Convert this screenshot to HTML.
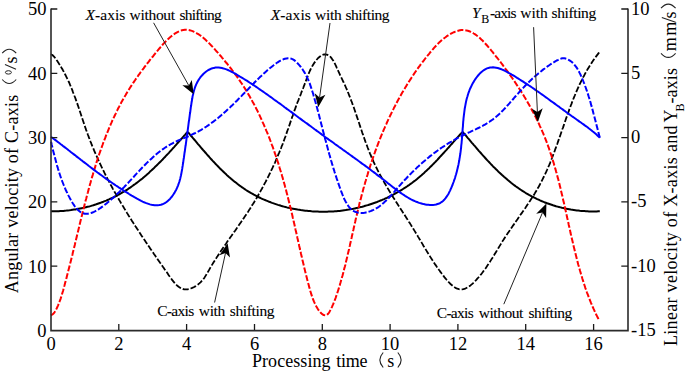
<!DOCTYPE html>
<html><head><meta charset="utf-8"><style>html,body{margin:0;padding:0;background:#fff}svg{display:block}</style></head>
<body><svg xmlns="http://www.w3.org/2000/svg" width="685" height="374" viewBox="0 0 685 374">
<rect width="685" height="374" fill="#fff"/>
<g fill="none" stroke-linejoin="round">
<path d="M51.0,211.3 52.5,211.3 54.1,211.3 55.6,211.3 57.2,211.2 58.7,211.2 60.3,211.1 61.8,211.0 63.3,210.9 64.9,210.7 66.4,210.6 67.9,210.4 69.5,210.3 71.0,210.1 72.5,209.8 74.0,209.6 75.5,209.4 77.1,209.1 78.6,208.8 80.1,208.5 81.6,208.2 83.1,207.9 84.5,207.6 86.0,207.2 87.5,206.8 89.0,206.5 90.5,206.1 91.9,205.6 93.4,205.2 94.8,204.7 96.3,204.3 97.7,203.8 99.2,203.3 100.6,202.8 102.0,202.2 103.4,201.7 104.8,201.1 106.2,200.6 107.6,200.0 109.0,199.4 110.4,198.7 111.8,198.1 113.2,197.5 114.5,196.8 115.9,196.1 117.2,195.4 118.6,194.7 119.9,194.0 121.2,193.2 122.5,192.4 123.8,191.7 125.1,190.9 126.4,190.1 127.7,189.3 128.9,188.4 130.2,187.6 131.4,186.7 132.7,185.8 133.9,184.9 135.2,184.0 136.4,183.1 137.6,182.2 138.8,181.3 140.0,180.3 141.2,179.4 142.4,178.4 143.5,177.4 144.7,176.4 145.9,175.4 147.0,174.4 148.2,173.4 149.3,172.4 150.4,171.3 151.6,170.3 152.7,169.2 153.8,168.2 154.9,167.1 156.0,166.1 157.1,165.0 158.2,163.9 159.3,162.8 160.4,161.7 161.5,160.6 162.6,159.5 163.6,158.4 164.7,157.3 165.7,156.1 166.8,155.0 167.9,153.9 168.9,152.8 169.9,151.6 171.0,150.5 172.0,149.4 173.0,148.2 174.1,147.1 175.1,145.9 176.1,144.8 177.1,143.7 178.1,142.5 179.2,141.4 180.2,140.2 181.2,139.1 182.2,138.0 183.2,136.8 184.2,135.7 185.2,134.6 186.2,133.4 187.1,132.3 188.2,132.5 189.2,133.7 190.2,134.9 191.2,136.0 192.2,137.2 193.2,138.4 194.2,139.5 195.2,140.7 196.2,141.9 197.2,143.1 198.2,144.3 199.2,145.4 200.2,146.6 201.2,147.8 202.2,149.0 203.2,150.2 204.3,151.3 205.3,152.5 206.3,153.7 207.3,154.8 208.4,156.0 209.4,157.2 210.4,158.3 211.5,159.5 212.5,160.6 213.6,161.7 214.7,162.9 215.7,164.0 216.8,165.1 217.9,166.2 219.0,167.4 220.0,168.5 221.1,169.5 222.2,170.6 223.4,171.7 224.5,172.8 225.6,173.8 226.7,174.9 227.9,175.9 229.0,176.9 230.2,177.9 231.3,179.0 232.5,179.9 233.7,180.9 234.9,181.9 236.1,182.8 237.3,183.8 238.5,184.7 239.7,185.6 241.0,186.5 242.2,187.4 243.5,188.3 244.7,189.1 246.0,190.0 247.3,190.8 248.6,191.6 249.9,192.4 251.2,193.2 252.6,193.9 253.9,194.7 255.3,195.4 256.6,196.1 258.0,196.8 259.4,197.5 260.7,198.2 262.1,198.8 263.5,199.4 265.0,200.0 266.4,200.6 267.8,201.2 269.2,201.8 270.7,202.3 272.1,202.9 273.6,203.4 275.0,203.9 276.5,204.4 278.0,204.9 279.5,205.3 281.0,205.8 282.4,206.2 283.9,206.6 285.4,207.0 287.0,207.4 288.5,207.7 290.0,208.1 291.5,208.4 293.0,208.7 294.6,209.0 296.1,209.3 297.6,209.6 299.2,209.8 300.7,210.1 302.2,210.3 303.8,210.5 305.3,210.7 306.9,210.8 308.4,211.0 310.0,211.1 311.6,211.3 313.1,211.4 314.7,211.5 316.2,211.6 317.8,211.6 319.3,211.7 320.9,211.7 322.5,211.7 324.0,211.7 325.6,211.7 327.1,211.7 328.7,211.6 330.3,211.6 331.8,211.5 333.4,211.4 334.9,211.3 336.5,211.2 338.0,211.0 339.6,210.9 341.1,210.7 342.7,210.5 344.2,210.3 345.7,210.1 347.3,209.8 348.8,209.6 350.3,209.3 351.8,209.0 353.4,208.8 354.9,208.4 356.4,208.1 357.9,207.8 359.4,207.4 360.9,207.0 362.4,206.7 363.9,206.3 365.3,205.8 366.8,205.4 368.3,205.0 369.7,204.5 371.2,204.0 372.7,203.5 374.1,203.0 375.6,202.5 377.0,202.0 378.4,201.4 379.8,200.8 381.3,200.3 382.7,199.7 384.1,199.1 385.5,198.4 386.9,197.8 388.3,197.1 389.6,196.5 391.0,195.8 392.4,195.1 393.7,194.4 395.1,193.7 396.4,192.9 397.8,192.2 399.1,191.4 400.4,190.6 401.7,189.8 403.0,189.0 404.3,188.2 405.6,187.4 406.9,186.5 408.1,185.6 409.4,184.8 410.6,183.9 411.9,183.0 413.1,182.0 414.3,181.1 415.6,180.2 416.8,179.2 417.9,178.2 419.1,177.2 420.3,176.2 421.5,175.2 422.6,174.2 423.8,173.2 424.9,172.1 426.1,171.1 427.2,170.0 428.3,168.9 429.4,167.9 430.5,166.8 431.6,165.7 432.7,164.6 433.8,163.5 434.9,162.4 436.0,161.2 437.1,160.1 438.1,159.0 439.2,157.8 440.2,156.7 441.3,155.5 442.3,154.4 443.4,153.2 444.4,152.1 445.5,150.9 446.5,149.8 447.5,148.6 448.6,147.5 449.6,146.3 450.6,145.1 451.7,144.0 452.7,142.8 453.7,141.7 454.7,140.5 455.8,139.4 456.8,138.2 457.8,137.1 458.8,136.0 459.8,134.8 460.9,133.7 461.9,132.6 462.9,132.2 463.9,133.4 464.9,134.5 465.9,135.7 466.9,136.9 467.9,138.1 468.9,139.2 469.9,140.4 470.9,141.6 471.9,142.8 472.9,143.9 473.9,145.1 474.9,146.2 475.9,147.3 476.8,148.5 477.8,149.6 478.8,150.8 479.8,151.9 480.8,153.0 481.8,154.2 482.8,155.3 483.8,156.4 484.8,157.5 485.9,158.7 486.9,159.8 487.9,160.9 489.0,162.0 490.0,163.1 491.0,164.2 492.1,165.3 493.1,166.4 494.2,167.4 495.3,168.5 496.3,169.6 497.4,170.6 498.5,171.7 499.6,172.7 500.7,173.7 501.8,174.8 502.9,175.8 504.0,176.8 505.2,177.8 506.4,178.8 507.5,179.8 508.7,180.8 509.9,181.8 511.1,182.8 512.3,183.7 513.6,184.7 514.8,185.6 516.0,186.5 517.3,187.4 518.6,188.3 519.8,189.2 521.1,190.0 522.4,190.9 523.7,191.7 525.0,192.5 526.3,193.3 527.7,194.1 529.0,194.9 530.4,195.6 531.7,196.3 533.1,197.0 534.4,197.7 535.8,198.4 537.2,199.1 538.6,199.7 540.0,200.4 541.4,201.0 542.9,201.6 544.3,202.2 545.7,202.7 547.2,203.3 548.6,203.8 550.1,204.3 551.6,204.8 553.0,205.3 554.5,205.7 556.0,206.2 557.5,206.6 559.0,207.0 560.5,207.4 561.9,207.8 563.4,208.1 564.8,208.4 566.3,208.7 567.8,209.0 569.3,209.3 570.8,209.6 572.3,209.8 573.8,210.0 575.3,210.2 576.8,210.4 578.3,210.6 579.8,210.8 581.3,210.9 582.9,211.0 584.4,211.1 585.9,211.2 587.5,211.3 589.0,211.4 590.5,211.4 592.1,211.4 593.6,211.4 595.2,211.4 596.7,211.4 598.2,211.3 599.7,211.2 599.8,211.2" stroke="#000" stroke-width="2"/>
<path d="M51.0,54.3 52.4,55.0 53.5,56.1 54.5,57.2 55.5,58.5 56.4,59.8 57.3,61.1 58.2,62.4 59.0,63.7 59.9,65.0 60.7,66.3 61.5,67.7 62.3,69.0 63.0,70.4 63.8,71.7 64.5,73.1 65.2,74.5 65.9,75.9 66.6,77.3 67.3,78.7 68.0,80.1 68.6,81.5 69.3,82.9 69.9,84.4 70.5,85.8 71.1,87.2 71.7,88.7 72.3,90.1 72.8,91.6 73.4,93.1 74.0,94.5 74.5,96.0 75.1,97.5 75.6,98.9 76.1,100.4 76.6,101.9 77.2,103.4 77.7,104.9 78.2,106.3 78.7,107.8 79.2,109.3 79.7,110.8 80.2,112.3 80.7,113.8 81.2,115.3 81.7,116.8 82.2,118.3 82.7,119.7 83.2,121.2 83.7,122.7 84.2,124.2 84.7,125.7 85.2,127.2 85.7,128.6 86.2,130.1 86.8,131.6 87.3,133.1 87.8,134.5 88.4,136.0 88.9,137.4 89.5,138.9 90.0,140.3 90.6,141.8 91.2,143.2 91.7,144.7 92.3,146.1 92.9,147.5 93.5,148.9 94.1,150.4 94.7,151.8 95.3,153.2 95.9,154.6 96.6,156.0 97.2,157.4 97.8,158.8 98.5,160.3 99.1,161.6 99.7,163.0 100.4,164.4 101.1,165.8 101.7,167.2 102.4,168.6 103.1,170.0 103.8,171.4 104.4,172.7 105.1,174.1 105.8,175.5 106.5,176.9 107.2,178.2 107.9,179.6 108.7,180.9 109.4,182.3 110.1,183.7 110.8,185.0 111.6,186.4 112.3,187.7 113.0,189.1 113.8,190.4 114.5,191.8 115.3,193.1 116.1,194.4 116.8,195.8 117.6,197.1 118.4,198.5 119.1,199.8 119.9,201.1 120.7,202.5 121.5,203.8 122.3,205.1 123.1,206.4 123.9,207.8 124.7,209.1 125.5,210.4 126.3,211.7 127.1,213.1 127.9,214.4 128.7,215.7 129.6,217.0 130.4,218.3 131.2,219.6 132.0,221.0 132.9,222.3 133.7,223.6 134.6,224.9 135.4,226.2 136.3,227.5 137.1,228.8 138.0,230.1 138.8,231.4 139.7,232.7 140.5,234.1 141.4,235.4 142.3,236.7 143.1,238.0 144.0,239.3 144.9,240.6 145.8,241.9 146.7,243.2 147.5,244.5 148.4,245.8 149.3,247.1 150.2,248.4 151.1,249.7 152.0,251.0 152.9,252.3 153.8,253.7 154.7,255.0 155.6,256.3 156.5,257.6 157.4,258.9 158.3,260.2 159.2,261.5 160.1,262.8 161.1,264.1 162.0,265.4 162.9,266.8 163.8,268.1 164.7,269.4 165.6,270.7 166.6,272.0 167.5,273.3 168.4,274.7 169.3,276.0 170.3,277.3 171.2,278.6 172.1,279.9 173.1,281.1 174.1,282.3 175.1,283.5 176.2,284.7 177.4,285.8 178.6,286.7 179.9,287.6 181.3,288.4 182.8,289.0 184.4,289.3 186.1,289.4 187.6,289.3 189.3,289.0 190.7,288.5 192.2,287.9 193.7,287.2 195.2,286.4 196.6,285.5 198.0,284.5 199.3,283.4 200.5,282.3 201.6,281.1 202.7,279.9 203.7,278.7 204.6,277.4 205.4,276.1 206.2,274.8 207.0,273.4 207.8,272.1 208.6,270.8 209.4,269.4 210.1,268.1 210.9,266.8 211.7,265.4 212.5,264.1 213.3,262.8 214.1,261.5 215.0,260.2 215.8,258.9 216.6,257.6 217.5,256.3 218.3,255.0 219.2,253.7 220.0,252.4 220.9,251.1 221.8,249.8 222.6,248.5 223.5,247.2 224.4,246.0 225.3,244.7 226.2,243.4 227.0,242.1 227.9,240.8 228.8,239.6 229.7,238.3 230.6,237.0 231.5,235.8 232.4,234.5 233.3,233.2 234.2,231.9 235.1,230.7 236.0,229.4 236.9,228.1 237.8,226.8 238.6,225.6 239.5,224.3 240.4,223.0 241.3,221.7 242.2,220.4 243.1,219.1 243.9,217.9 244.8,216.6 245.7,215.3 246.5,214.0 247.4,212.7 248.3,211.4 249.1,210.1 250.0,208.8 250.8,207.5 251.6,206.1 252.4,204.8 253.3,203.5 254.1,202.2 254.9,200.8 255.7,199.5 256.5,198.2 257.3,196.8 258.1,195.5 258.8,194.1 259.6,192.8 260.4,191.4 261.1,190.1 261.9,188.7 262.6,187.4 263.4,186.0 264.1,184.6 264.8,183.2 265.6,181.9 266.3,180.5 267.0,179.1 267.7,177.7 268.4,176.3 269.1,174.9 269.8,173.5 270.5,172.1 271.1,170.7 271.8,169.3 272.5,167.9 273.1,166.5 273.8,165.1 274.4,163.7 275.1,162.3 275.7,160.9 276.3,159.4 276.9,158.0 277.5,156.6 278.1,155.1 278.7,153.7 279.3,152.3 279.9,150.8 280.5,149.4 281.1,148.0 281.6,146.5 282.2,145.1 282.8,143.6 283.3,142.2 283.9,140.7 284.4,139.2 284.9,137.8 285.5,136.3 286.0,134.9 286.5,133.4 287.0,131.9 287.5,130.5 288.1,129.0 288.6,127.5 289.1,126.1 289.6,124.6 290.1,123.1 290.6,121.6 291.1,120.2 291.6,118.7 292.1,117.2 292.7,115.8 293.2,114.3 293.7,112.8 294.2,111.3 294.7,109.9 295.3,108.4 295.8,106.9 296.3,105.5 296.9,104.0 297.4,102.5 298.0,101.1 298.6,99.6 299.1,98.2 299.7,96.7 300.3,95.3 300.9,93.8 301.4,92.4 302.0,90.9 302.6,89.5 303.2,88.0 303.7,86.6 304.3,85.2 304.8,83.7 305.4,82.3 305.9,80.9 306.4,79.5 306.9,78.1 307.5,76.7 308.0,75.3 308.6,73.8 309.2,72.4 309.8,71.0 310.5,69.5 311.2,68.1 312.0,66.6 312.8,65.3 313.6,64.0 314.5,62.6 315.4,61.4 316.3,60.1 317.3,59.0 318.5,57.7 319.7,56.7 320.9,55.7 322.3,55.0 323.7,54.5 325.3,54.3 326.8,54.6 328.3,55.2 329.6,56.1 330.8,57.2 331.7,58.4 332.6,59.7 333.5,61.1 334.3,62.5 335.0,63.9 335.7,65.3 336.3,66.7 336.9,68.1 337.6,69.5 338.2,70.9 338.9,72.4 339.6,73.9 340.2,75.3 340.9,76.8 341.6,78.2 342.3,79.6 342.9,81.0 343.6,82.3 344.2,83.7 344.9,85.1 345.5,86.5 346.1,87.9 346.7,89.2 347.3,90.6 347.9,92.1 348.5,93.5 349.0,94.9 349.6,96.3 350.2,97.7 350.7,99.2 351.2,100.6 351.8,102.0 352.3,103.5 352.8,104.9 353.4,106.4 353.9,107.8 354.4,109.3 354.9,110.7 355.4,112.2 355.9,113.7 356.4,115.1 356.9,116.6 357.4,118.1 357.9,119.5 358.4,121.0 358.9,122.5 359.4,124.0 359.8,125.4 360.3,126.9 360.8,128.4 361.3,129.8 361.8,131.3 362.3,132.8 362.9,134.3 363.4,135.7 363.9,137.2 364.4,138.7 364.9,140.1 365.4,141.6 366.0,143.1 366.5,144.5 367.1,146.0 367.6,147.5 368.2,148.9 368.7,150.4 369.3,151.8 369.9,153.3 370.5,154.7 371.1,156.1 371.7,157.6 372.3,159.0 373.0,160.4 373.6,161.9 374.3,163.3 374.9,164.7 375.6,166.1 376.3,167.5 377.0,168.9 377.7,170.3 378.4,171.7 379.2,173.1 379.9,174.5 380.6,175.8 381.4,177.2 382.1,178.6 382.9,180.0 383.7,181.3 384.4,182.7 385.2,184.0 386.0,185.4 386.8,186.7 387.6,188.1 388.4,189.4 389.2,190.8 390.0,192.1 390.9,193.5 391.7,194.8 392.5,196.1 393.3,197.5 394.2,198.8 395.0,200.1 395.8,201.4 396.7,202.7 397.5,204.1 398.4,205.4 399.2,206.7 400.0,208.0 400.9,209.3 401.7,210.6 402.6,211.9 403.4,213.2 404.3,214.5 405.1,215.8 405.9,217.1 406.8,218.4 407.6,219.7 408.4,221.0 409.2,222.3 410.1,223.6 410.9,224.9 411.7,226.2 412.5,227.5 413.3,228.8 414.1,230.1 414.9,231.4 415.7,232.7 416.5,234.0 417.3,235.3 418.0,236.6 418.8,237.9 419.6,239.2 420.4,240.5 421.1,241.8 421.9,243.1 422.7,244.4 423.4,245.7 424.2,247.0 425.0,248.3 425.8,249.6 426.6,250.9 427.4,252.2 428.2,253.5 429.0,254.8 429.8,256.1 430.6,257.4 431.5,258.8 432.3,260.1 433.2,261.4 434.0,262.7 434.9,264.1 435.9,265.4 436.8,266.8 437.7,268.1 438.7,269.5 439.7,270.8 440.6,272.2 441.7,273.5 442.6,274.7 443.5,275.9 444.4,277.1 445.4,278.3 446.4,279.5 447.4,280.6 448.5,281.9 449.7,283.1 450.8,284.3 452.0,285.3 453.2,286.3 454.6,287.3 456.0,288.1 457.3,288.7 458.9,289.2 460.4,289.4 462.0,289.4 463.5,289.1 465.1,288.6 466.4,288.0 467.8,287.2 469.2,286.3 470.5,285.4 471.7,284.4 472.9,283.3 474.0,282.2 475.1,281.1 476.3,279.9 477.3,278.7 478.4,277.5 479.5,276.3 480.5,275.0 481.5,273.8 482.5,272.5 483.4,271.2 484.4,270.0 485.3,268.7 486.2,267.4 487.1,266.1 487.9,264.8 488.8,263.5 489.7,262.2 490.5,260.9 491.3,259.6 492.2,258.3 493.0,257.0 493.8,255.6 494.6,254.3 495.4,253.0 496.2,251.7 497.0,250.4 497.8,249.0 498.6,247.7 499.4,246.4 500.2,245.1 501.0,243.8 501.8,242.4 502.6,241.1 503.5,239.8 504.3,238.5 505.1,237.2 506.0,235.9 506.9,234.6 507.7,233.3 508.6,232.1 509.5,230.8 510.3,229.5 511.2,228.2 512.1,226.9 513.0,225.6 513.9,224.4 514.8,223.1 515.7,221.8 516.6,220.5 517.5,219.3 518.3,218.0 519.2,216.7 520.1,215.4 521.0,214.1 521.9,212.9 522.8,211.6 523.7,210.3 524.6,209.0 525.5,207.7 526.3,206.4 527.2,205.1 528.1,203.8 528.9,202.5 529.8,201.2 530.6,199.9 531.5,198.6 532.3,197.3 533.2,196.0 534.0,194.7 534.8,193.4 535.6,192.0 536.4,190.7 537.2,189.4 537.9,188.0 538.7,186.7 539.5,185.3 540.2,183.9 540.9,182.6 541.6,181.2 542.3,179.8 543.0,178.4 543.7,177.0 544.4,175.6 545.1,174.2 545.7,172.8 546.4,171.4 547.0,170.0 547.6,168.5 548.2,167.1 548.9,165.7 549.5,164.3 550.1,162.8 550.6,161.4 551.2,159.9 551.8,158.5 552.4,157.0 552.9,155.6 553.5,154.1 554.1,152.6 554.6,151.2 555.1,149.7 555.7,148.2 556.2,146.8 556.7,145.3 557.3,143.8 557.8,142.4 558.3,140.9 558.8,139.4 559.4,137.9 559.9,136.4 560.4,135.0 560.9,133.5 561.4,132.0 561.9,130.5 562.4,129.0 563.0,127.6 563.5,126.1 564.0,124.6 564.5,123.1 565.0,121.7 565.5,120.2 566.0,118.7 566.6,117.2 567.1,115.8 567.6,114.3 568.1,112.8 568.7,111.4 569.2,109.9 569.7,108.4 570.3,107.0 570.8,105.5 571.4,104.1 571.9,102.6 572.5,101.2 573.0,99.8 573.6,98.3 574.2,96.9 574.8,95.5 575.4,94.0 576.0,92.6 576.6,91.2 577.2,89.8 577.8,88.4 578.5,87.0 579.1,85.6 579.7,84.2 580.4,82.8 581.1,81.4 581.8,80.1 582.4,78.7 583.1,77.3 583.9,76.0 584.6,74.6 585.3,73.3 586.1,72.0 586.8,70.6 587.6,69.3 588.4,68.0 589.2,66.7 590.0,65.4 590.8,64.1 591.6,62.9 592.5,61.6 593.3,60.3 594.2,59.1 595.1,57.8 596.0,56.6 596.9,55.4 597.9,54.1 598.8,52.9 599.3,52.3" stroke="#000" stroke-width="1.8" stroke-dasharray="6 2"/>
<path d="M51.0,315.3 52.4,314.5 53.6,313.5 54.5,312.3 55.4,310.9 56.2,309.4 56.9,308.0 57.5,306.6 58.1,305.3 58.8,303.6 59.4,302.0 60.0,300.4 60.6,298.8 61.1,297.1 61.6,295.5 62.1,293.9 62.6,292.3 63.1,290.7 63.5,289.0 63.9,287.4 64.4,285.8 64.8,284.2 65.2,282.6 65.7,281.0 66.1,279.5 66.5,277.9 66.9,276.3 67.3,274.7 67.7,273.2 68.1,271.6 68.5,270.0 68.9,268.5 69.3,266.9 69.7,265.3 70.1,263.8 70.5,262.2 70.9,260.7 71.3,259.1 71.7,257.5 72.1,256.0 72.5,254.4 72.8,252.8 73.2,251.3 73.6,249.7 74.0,248.1 74.4,246.5 74.8,245.0 75.1,243.4 75.5,241.8 75.9,240.2 76.3,238.6 76.7,237.1 77.0,235.5 77.4,233.9 77.8,232.3 78.2,230.7 78.6,229.1 79.0,227.5 79.4,225.9 79.7,224.3 80.1,222.7 80.5,221.1 80.9,219.5 81.3,217.9 81.7,216.3 82.1,214.7 82.5,213.1 82.9,211.5 83.3,209.9 83.7,208.3 84.1,206.7 84.5,205.1 84.9,203.5 85.3,201.9 85.7,200.3 86.2,198.7 86.6,197.1 87.0,195.5 87.4,193.9 87.9,192.3 88.3,190.7 88.7,189.1 89.2,187.5 89.6,185.9 90.0,184.3 90.5,182.7 90.9,181.1 91.4,179.5 91.8,177.9 92.3,176.4 92.8,174.8 93.2,173.2 93.7,171.6 94.2,170.0 94.7,168.4 95.2,166.9 95.6,165.3 96.1,163.7 96.6,162.1 97.1,160.6 97.7,159.0 98.2,157.4 98.7,155.9 99.2,154.3 99.7,152.8 100.3,151.2 100.8,149.7 101.4,148.1 101.9,146.6 102.5,145.0 103.0,143.5 103.6,142.0 104.2,140.4 104.8,138.9 105.4,137.4 105.9,135.9 106.5,134.4 107.2,132.8 107.8,131.3 108.4,129.8 109.0,128.3 109.6,126.8 110.3,125.3 110.9,123.9 111.6,122.4 112.2,120.9 112.9,119.4 113.6,117.9 114.3,116.5 115.0,115.0 115.7,113.6 116.4,112.1 117.1,110.7 117.8,109.2 118.5,107.8 119.3,106.4 120.0,105.0 120.8,103.5 121.5,102.1 122.3,100.7 123.1,99.3 123.9,97.9 124.7,96.5 125.5,95.2 126.3,93.8 127.1,92.4 128.0,91.0 128.8,89.7 129.7,88.3 130.5,87.0 131.4,85.6 132.3,84.3 133.2,82.9 134.1,81.6 135.0,80.3 135.9,78.9 136.8,77.6 137.8,76.3 138.7,74.9 139.7,73.6 140.6,72.3 141.6,70.9 142.6,69.6 143.6,68.3 144.6,66.9 145.6,65.6 146.7,64.3 147.7,62.9 148.8,61.6 149.8,60.2 150.9,58.8 152.0,57.5 153.0,56.3 153.9,55.1 154.9,53.9 155.8,52.7 156.8,51.6 157.8,50.4 158.8,49.2 159.8,48.0 160.8,46.8 161.8,45.7 162.8,44.5 163.8,43.4 164.9,42.3 166.1,41.0 167.3,39.8 168.5,38.7 169.8,37.5 171.0,36.5 172.3,35.5 173.5,34.5 174.8,33.7 176.1,32.9 177.5,32.1 179.0,31.4 180.5,30.8 181.9,30.3 183.4,30.0 184.9,29.8 186.6,29.8 188.1,29.9 189.6,30.2 191.1,30.6 192.6,31.1 194.1,31.8 195.6,32.5 196.9,33.3 198.3,34.1 199.6,35.0 200.9,35.9 202.2,36.9 203.5,38.0 204.7,39.1 206.0,40.3 207.3,41.5 208.4,42.5 209.5,43.6 210.5,44.7 211.6,45.8 212.6,46.9 213.7,48.1 214.7,49.2 215.7,50.4 216.7,51.5 217.8,52.6 218.7,53.8 219.7,54.9 220.9,56.2 222.0,57.6 223.1,58.9 224.2,60.2 225.2,61.5 226.3,62.8 227.4,64.0 228.4,65.3 229.4,66.6 230.4,67.9 231.4,69.2 232.4,70.5 233.4,71.8 234.4,73.1 235.3,74.3 236.3,75.6 237.2,76.9 238.1,78.2 239.0,79.6 239.9,80.9 240.8,82.2 241.7,83.5 242.6,84.8 243.4,86.2 244.3,87.5 245.2,88.9 246.0,90.2 246.8,91.6 247.7,93.0 248.5,94.4 249.3,95.8 250.1,97.2 250.9,98.6 251.7,100.0 252.4,101.4 253.2,102.8 254.0,104.2 254.7,105.7 255.5,107.1 256.2,108.5 257.0,110.0 257.7,111.4 258.4,112.9 259.1,114.4 259.8,115.8 260.5,117.3 261.2,118.8 261.9,120.3 262.5,121.8 263.2,123.3 263.9,124.8 264.5,126.3 265.2,127.8 265.8,129.3 266.4,130.8 267.1,132.3 267.7,133.8 268.3,135.4 268.9,136.9 269.5,138.4 270.1,140.0 270.7,141.5 271.3,143.1 271.8,144.6 272.4,146.2 273.0,147.7 273.5,149.3 274.1,150.8 274.6,152.4 275.1,153.9 275.7,155.5 276.2,157.1 276.7,158.6 277.2,160.2 277.8,161.8 278.3,163.4 278.8,164.9 279.3,166.5 279.7,168.1 280.2,169.7 280.7,171.3 281.2,172.9 281.7,174.4 282.1,176.0 282.6,177.6 283.0,179.2 283.5,180.8 283.9,182.4 284.4,184.0 284.8,185.6 285.2,187.1 285.7,188.7 286.1,190.3 286.5,191.9 286.9,193.5 287.3,195.1 287.7,196.7 288.1,198.3 288.5,199.8 288.9,201.4 289.3,203.0 289.7,204.6 290.1,206.2 290.5,207.8 290.9,209.4 291.2,211.0 291.6,212.5 292.0,214.1 292.4,215.7 292.7,217.3 293.1,218.9 293.5,220.5 293.8,222.1 294.2,223.6 294.6,225.2 294.9,226.8 295.3,228.4 295.6,230.0 296.0,231.6 296.4,233.2 296.7,234.8 297.1,236.3 297.4,237.9 297.8,239.5 298.1,241.1 298.5,242.7 298.9,244.3 299.2,245.9 299.6,247.5 299.9,249.1 300.3,250.7 300.7,252.2 301.0,253.8 301.4,255.4 301.8,257.0 302.1,258.6 302.5,260.2 302.9,261.8 303.3,263.4 303.7,265.0 304.0,266.6 304.4,268.2 304.8,269.8 305.2,271.4 305.6,273.0 306.0,274.6 306.4,276.2 306.8,277.8 307.2,279.4 307.6,281.0 308.0,282.6 308.5,284.2 308.9,285.8 309.3,287.4 309.8,289.0 310.2,290.7 310.7,292.3 311.2,293.9 311.7,295.4 312.2,297.0 312.8,298.6 313.4,300.2 314.0,301.7 314.7,303.2 315.4,304.7 316.2,306.2 317.1,307.7 318.0,309.2 318.9,310.6 320.0,311.9 321.0,313.1 322.3,314.2 323.7,315.1 325.2,315.4 326.6,315.0 327.8,314.1 328.9,312.8 329.7,311.4 330.5,309.9 331.2,308.5 331.9,307.1 332.5,305.7 333.1,304.4 333.7,302.8 334.4,301.2 335.0,299.6 335.6,298.0 336.1,296.4 336.7,294.9 337.2,293.3 337.7,291.7 338.2,290.2 338.7,288.6 339.2,287.0 339.7,285.5 340.1,283.9 340.6,282.3 341.0,280.7 341.5,279.2 341.9,277.6 342.4,276.0 342.8,274.4 343.2,272.9 343.6,271.3 344.0,269.7 344.4,268.1 344.9,266.5 345.3,264.9 345.6,263.3 346.0,261.7 346.4,260.2 346.8,258.6 347.2,257.0 347.6,255.4 347.9,253.8 348.3,252.2 348.7,250.6 349.1,249.0 349.4,247.4 349.8,245.8 350.1,244.2 350.5,242.6 350.9,241.0 351.2,239.4 351.6,237.8 351.9,236.2 352.3,234.6 352.7,233.0 353.0,231.4 353.4,229.8 353.7,228.2 354.1,226.6 354.5,225.0 354.8,223.4 355.2,221.8 355.5,220.2 355.9,218.6 356.3,217.0 356.7,215.4 357.0,213.8 357.4,212.2 357.8,210.6 358.2,209.0 358.6,207.4 359.0,205.8 359.3,204.2 359.7,202.6 360.1,201.0 360.6,199.4 361.0,197.9 361.4,196.3 361.8,194.7 362.2,193.1 362.7,191.5 363.1,189.9 363.5,188.3 364.0,186.8 364.4,185.2 364.9,183.6 365.3,182.0 365.8,180.5 366.2,178.9 366.7,177.3 367.2,175.7 367.7,174.2 368.1,172.6 368.6,171.0 369.1,169.5 369.6,167.9 370.1,166.4 370.6,164.8 371.1,163.2 371.7,161.7 372.2,160.1 372.7,158.6 373.2,157.1 373.8,155.5 374.3,154.0 374.9,152.4 375.4,150.9 376.0,149.3 376.6,147.8 377.1,146.3 377.7,144.8 378.3,143.2 378.9,141.7 379.5,140.2 380.1,138.7 380.7,137.2 381.3,135.6 381.9,134.1 382.6,132.6 383.2,131.1 383.8,129.6 384.5,128.1 385.1,126.6 385.8,125.1 386.5,123.6 387.1,122.1 387.8,120.7 388.5,119.2 389.2,117.7 389.9,116.2 390.6,114.8 391.3,113.3 392.0,111.8 392.7,110.4 393.5,108.9 394.2,107.4 395.0,106.0 395.7,104.5 396.5,103.1 397.2,101.7 398.0,100.2 398.8,98.8 399.6,97.4 400.4,95.9 401.2,94.5 402.0,93.1 402.8,91.7 403.7,90.3 404.5,88.9 405.3,87.5 406.2,86.1 407.0,84.7 407.9,83.3 408.8,81.9 409.7,80.5 410.6,79.1 411.5,77.7 412.4,76.4 413.3,75.0 414.2,73.6 415.1,72.3 416.1,70.9 417.0,69.6 418.0,68.2 418.9,66.9 419.9,65.6 420.9,64.2 421.9,62.9 422.9,61.6 423.9,60.3 424.9,59.0 425.9,57.7 427.0,56.3 428.0,55.1 429.1,53.8 430.1,52.5 431.2,51.2 432.3,49.9 433.4,48.7 434.5,47.4 435.6,46.2 436.7,45.0 437.9,43.8 439.1,42.6 440.3,41.5 441.6,40.3 442.8,39.3 444.1,38.2 445.5,37.2 446.8,36.2 448.2,35.3 449.6,34.4 451.0,33.6 452.5,32.8 453.9,32.2 455.4,31.6 456.8,31.1 458.2,30.7 459.9,30.3 461.5,30.1 463.1,30.1 464.7,30.2 466.2,30.4 467.8,30.8 469.3,31.3 470.8,31.9 472.3,32.6 473.7,33.5 475.2,34.4 476.4,35.3 477.6,36.2 478.9,37.2 480.1,38.3 481.3,39.4 482.5,40.5 483.6,41.7 484.8,43.0 485.9,44.2 487.1,45.5 488.2,46.8 489.4,48.2 490.5,49.5 491.6,50.9 492.7,52.2 493.8,53.6 494.9,54.9 495.9,56.3 497.0,57.6 498.1,59.0 499.1,60.3 500.2,61.7 501.2,63.0 502.3,64.4 503.3,65.8 504.3,67.1 505.3,68.5 506.3,69.8 507.3,71.2 508.3,72.6 509.3,73.9 510.3,75.3 511.2,76.7 512.2,78.0 513.1,79.4 514.1,80.8 515.0,82.1 515.9,83.5 516.8,84.9 517.7,86.2 518.7,87.6 519.5,89.0 520.4,90.4 521.3,91.8 522.2,93.2 523.0,94.5 523.9,95.9 524.7,97.3 525.6,98.7 526.4,100.1 527.2,101.5 528.0,102.9 528.8,104.3 529.6,105.7 530.4,107.2 531.2,108.6 531.9,110.0 532.7,111.4 533.5,112.8 534.2,114.3 534.9,115.7 535.7,117.1 536.4,118.6 537.1,120.0 537.8,121.5 538.5,122.9 539.2,124.4 539.8,125.8 540.5,127.3 541.1,128.8 541.8,130.2 542.4,131.7 543.1,133.2 543.7,134.7 544.3,136.1 544.9,137.6 545.5,139.1 546.1,140.6 546.7,142.2 547.2,143.7 547.8,145.2 548.3,146.7 548.9,148.2 549.4,149.8 549.9,151.3 550.4,152.8 551.0,154.4 551.5,155.9 552.0,157.5 552.4,159.0 552.9,160.6 553.4,162.1 553.9,163.7 554.3,165.3 554.8,166.8 555.2,168.4 555.7,170.0 556.1,171.6 556.6,173.1 557.0,174.7 557.4,176.3 557.8,177.9 558.3,179.5 558.7,181.1 559.1,182.7 559.5,184.3 559.9,185.9 560.3,187.5 560.7,189.1 561.0,190.7 561.4,192.3 561.8,193.9 562.2,195.5 562.6,197.1 562.9,198.8 563.3,200.4 563.7,202.0 564.1,203.6 564.4,205.2 564.8,206.8 565.1,208.5 565.5,210.1 565.9,211.7 566.2,213.3 566.6,214.9 566.9,216.6 567.3,218.2 567.7,219.8 568.0,221.4 568.4,223.0 568.7,224.7 569.1,226.3 569.5,227.9 569.8,229.5 570.2,231.1 570.5,232.8 570.9,234.4 571.3,236.0 571.6,237.6 572.0,239.2 572.4,240.8 572.8,242.4 573.1,244.0 573.5,245.6 573.9,247.2 574.3,248.8 574.7,250.4 575.1,252.0 575.5,253.6 575.9,255.2 576.3,256.8 576.7,258.4 577.1,260.0 577.5,261.6 577.9,263.2 578.3,264.8 578.8,266.3 579.2,267.9 579.7,269.5 580.1,271.0 580.6,272.6 581.0,274.2 581.5,275.7 582.0,277.3 582.4,278.8 582.9,280.4 583.4,281.9 583.9,283.5 584.4,285.0 584.9,286.5 585.4,288.1 586.0,289.6 586.5,291.1 587.0,292.6 587.6,294.1 588.2,295.6 588.7,297.1 589.3,298.6 589.9,300.1 590.5,301.6 591.1,303.1 591.7,304.5 592.3,306.0 593.0,307.5 593.6,308.9 594.3,310.4 594.9,311.8 595.6,313.3 596.3,314.7 597.0,316.1 597.7,317.5 598.4,318.9 598.6,319.4" stroke="#f00" stroke-width="2" stroke-dasharray="6 2"/>
<path d="M51.0,141.7 51.4,143.1 51.7,144.7 52.1,146.3 52.5,147.8 52.8,149.4 53.2,150.9 53.6,152.4 54.0,154.0 54.4,155.5 54.8,157.0 55.2,158.6 55.6,160.1 56.0,161.6 56.4,163.1 56.8,164.6 57.2,166.1 57.7,167.6 58.1,169.1 58.6,170.6 59.0,172.1 59.5,173.5 60.0,175.0 60.5,176.5 61.0,178.0 61.5,179.5 62.1,181.0 62.7,182.5 63.3,184.0 63.9,185.5 64.5,186.9 65.1,188.4 65.8,190.0 66.5,191.5 67.2,192.8 67.8,194.2 68.5,195.6 69.2,196.9 69.9,198.3 70.7,199.7 71.5,201.1 72.3,202.5 73.1,203.8 74.0,205.1 74.8,206.3 75.8,207.6 76.9,208.8 77.9,209.9 79.2,211.0 80.4,212.0 81.7,212.7 83.2,213.3 84.8,213.7 86.3,213.8 88.0,213.7 89.5,213.4 91.0,213.0 92.5,212.5 93.9,211.9 95.4,211.2 96.8,210.4 98.1,209.6 99.4,208.7 100.7,207.9 102.0,206.9 103.3,206.0 104.5,205.0 105.8,204.0 107.0,203.1 108.2,202.1 109.3,201.1 110.5,200.1 111.7,199.0 112.9,197.9 114.1,196.9 115.3,195.8 116.4,194.7 117.6,193.6 118.7,192.6 119.8,191.5 120.9,190.4 122.0,189.3 123.0,188.2 124.1,187.1 125.1,186.0 126.2,184.9 127.2,183.8 128.3,182.7 129.3,181.6 130.4,180.4 131.4,179.3 132.5,178.1 133.6,177.0 134.6,175.8 135.7,174.6 136.8,173.4 137.9,172.3 139.0,171.1 140.1,169.9 141.2,168.7 142.3,167.5 143.5,166.4 144.6,165.2 145.8,164.0 146.9,162.9 148.1,161.7 149.3,160.6 150.5,159.5 151.7,158.4 152.9,157.3 154.1,156.2 155.3,155.1 156.6,154.0 157.8,153.0 159.1,152.0 160.4,151.0 161.7,150.0 163.0,149.1 164.3,148.2 165.6,147.3 167.0,146.4 168.4,145.6 169.7,144.8 171.1,144.0 172.5,143.3 174.0,142.5 175.4,141.9 176.8,141.2 178.3,140.5 179.7,139.9 181.2,139.3 182.7,138.6 184.1,138.0 185.6,137.4 187.0,136.8 188.5,136.2 189.9,135.5 191.4,134.9 192.8,134.2 194.2,133.5 195.7,132.8 197.1,132.1 198.4,131.4 199.8,130.6 201.2,129.8 202.5,129.0 203.9,128.2 205.2,127.3 206.5,126.5 207.8,125.6 209.1,124.7 210.4,123.8 211.7,122.8 213.0,121.9 214.2,120.9 215.5,120.0 216.7,119.0 218.0,118.0 219.2,117.0 220.4,115.9 221.6,114.9 222.9,113.9 224.1,112.8 225.3,111.7 226.4,110.7 227.6,109.6 228.8,108.5 230.0,107.4 231.1,106.3 232.3,105.2 233.4,104.1 234.6,102.9 235.7,101.8 236.9,100.7 238.0,99.5 239.1,98.4 240.3,97.2 241.4,96.1 242.5,94.9 243.6,93.8 244.8,92.6 245.9,91.5 247.0,90.3 248.1,89.2 249.2,88.0 250.3,86.9 251.4,85.8 252.5,84.6 253.6,83.5 254.7,82.3 255.8,81.2 257.0,80.1 258.1,79.0 259.2,77.9 260.3,76.8 261.5,75.7 262.6,74.6 263.8,73.5 265.0,72.4 266.1,71.4 267.4,70.3 268.6,69.3 269.8,68.2 271.1,67.2 272.4,66.2 273.7,65.2 275.0,64.2 276.3,63.3 277.7,62.3 279.1,61.4 280.5,60.6 282.0,59.9 283.4,59.3 284.9,58.8 286.5,58.5 288.0,58.3 289.5,58.3 291.0,58.6 292.4,59.1 293.8,59.9 295.1,60.9 296.3,62.0 297.5,63.2 298.6,64.4 299.7,65.6 300.7,66.9 301.6,68.1 302.6,69.4 303.4,70.7 304.3,72.1 305.1,73.4 305.8,74.8 306.5,76.2 307.2,77.6 307.9,79.1 308.5,80.5 309.1,82.0 309.7,83.4 310.2,84.9 310.7,86.4 311.2,87.9 311.7,89.5 312.2,91.0 312.7,92.5 313.2,94.0 313.6,95.6 314.1,97.1 314.5,98.7 314.9,100.2 315.4,101.8 315.8,103.3 316.2,104.9 316.7,106.5 317.1,108.0 317.5,109.6 317.9,111.1 318.3,112.7 318.8,114.3 319.2,115.8 319.6,117.4 320.0,119.0 320.4,120.5 320.8,122.1 321.2,123.7 321.6,125.2 322.0,126.8 322.4,128.3 322.8,129.9 323.2,131.4 323.6,133.0 324.0,134.5 324.4,136.1 324.8,137.6 325.2,139.2 325.7,140.7 326.1,142.2 326.5,143.8 326.9,145.3 327.3,146.8 327.7,148.3 328.1,149.8 328.5,151.3 328.9,152.8 329.3,154.3 329.8,155.8 330.2,157.3 330.6,158.8 331.0,160.2 331.5,161.7 331.9,163.2 332.3,164.7 332.8,166.1 333.2,167.6 333.7,169.1 334.2,170.6 334.6,172.1 335.1,173.6 335.6,175.1 336.1,176.6 336.6,178.2 337.1,179.7 337.7,181.3 338.2,182.9 338.7,184.3 339.2,185.8 339.7,187.2 340.3,188.7 340.8,190.2 341.3,191.7 341.9,193.2 342.5,194.7 343.1,196.1 343.7,197.6 344.3,199.0 345.0,200.4 345.7,201.8 346.5,203.1 347.3,204.5 348.2,205.8 349.2,207.1 350.1,208.2 351.3,209.3 352.5,210.3 353.8,211.2 355.2,211.8 356.7,212.3 358.2,212.7 359.8,212.9 361.4,213.0 363.0,212.9 364.5,212.7 366.1,212.4 367.6,212.1 369.1,211.6 370.6,211.1 372.0,210.5 373.5,209.9 374.9,209.2 376.2,208.4 377.6,207.6 378.9,206.7 380.2,205.7 381.4,204.8 382.6,203.7 383.8,202.7 385.0,201.6 386.2,200.5 387.4,199.3 388.5,198.2 389.6,197.0 390.7,195.8 391.8,194.5 392.9,193.3 394.0,192.1 395.1,190.8 396.2,189.6 397.2,188.3 398.3,187.1 399.4,185.9 400.5,184.7 401.6,183.4 402.7,182.2 403.8,181.0 404.9,179.8 406.0,178.7 407.1,177.5 408.2,176.3 409.3,175.2 410.5,174.0 411.6,172.9 412.7,171.8 413.9,170.6 415.0,169.5 416.2,168.4 417.3,167.3 418.5,166.3 419.6,165.2 420.8,164.1 422.0,163.1 423.2,162.0 424.4,161.0 425.6,160.0 426.8,158.9 428.0,157.9 429.2,156.9 430.5,155.9 431.7,155.0 432.9,154.0 434.2,153.0 435.5,152.1 436.7,151.2 438.0,150.2 439.3,149.3 440.6,148.4 441.9,147.5 443.3,146.6 444.6,145.8 445.9,144.9 447.3,144.0 448.6,143.2 450.0,142.4 451.4,141.6 452.7,140.8 454.1,140.0 455.5,139.2 456.9,138.4 458.3,137.7 459.7,136.9 461.2,136.2 462.6,135.5 464.0,134.8 465.5,134.1 466.9,133.4 468.4,132.7 469.8,132.1 471.2,131.4 472.7,130.7 474.1,130.0 475.6,129.4 477.0,128.7 478.4,128.0 479.8,127.3 481.2,126.5 482.6,125.8 484.0,125.0 485.4,124.3 486.7,123.5 488.1,122.6 489.4,121.8 490.7,120.9 492.0,120.0 493.3,119.1 494.5,118.1 495.8,117.1 497.0,116.1 498.2,115.0 499.3,114.0 500.5,112.8 501.6,111.7 502.8,110.6 503.9,109.4 505.0,108.2 506.1,107.0 507.2,105.8 508.3,104.6 509.4,103.4 510.4,102.2 511.5,100.9 512.6,99.7 513.7,98.5 514.7,97.2 515.8,96.0 516.9,94.8 518.0,93.6 519.0,92.4 520.1,91.2 521.2,90.0 522.3,88.8 523.4,87.6 524.5,86.5 525.6,85.3 526.8,84.2 527.9,83.1 529.0,81.9 530.2,80.8 531.3,79.7 532.5,78.6 533.7,77.6 534.8,76.5 536.0,75.5 537.2,74.4 538.4,73.4 539.7,72.4 540.9,71.4 542.1,70.4 543.4,69.4 544.7,68.5 546.0,67.5 547.2,66.6 548.6,65.7 549.9,64.8 551.2,63.9 552.6,63.0 554.0,62.2 555.3,61.4 556.7,60.5 558.2,59.8 559.6,59.1 561.1,58.6 562.5,58.3 564.2,58.3 565.7,58.6 567.2,59.1 568.6,59.8 569.9,60.6 571.2,61.5 572.4,62.5 573.5,63.6 574.5,64.8 575.5,66.1 576.5,67.4 577.4,68.8 578.2,70.2 578.9,71.5 579.6,72.9 580.3,74.2 580.9,75.6 581.5,77.0 582.2,78.5 582.8,80.0 583.4,81.5 584.0,83.0 584.6,84.5 585.1,86.0 585.7,87.5 586.2,89.0 586.7,90.4 587.2,91.9 587.7,93.4 588.2,94.9 588.6,96.3 589.1,97.8 589.6,99.3 590.0,100.8 590.5,102.3 590.9,103.9 591.3,105.4 591.8,106.9 592.2,108.5 592.6,110.0 593.0,111.6 593.4,113.2 593.9,114.7 594.3,116.3 594.7,117.9 595.1,119.4 595.5,121.0 595.9,122.6 596.3,124.1 596.7,125.7 597.1,127.3 597.5,128.8 597.9,130.4 598.3,131.9 598.7,133.5 599.1,135.0 599.5,136.5 599.8,137.8" stroke="#00f" stroke-width="2" stroke-dasharray="6 2"/>
<path d="M51.0,136.8 52.2,137.7 53.5,138.7 54.8,139.6 56.1,140.6 57.3,141.6 58.6,142.5 59.9,143.5 61.1,144.5 62.4,145.4 63.6,146.4 64.9,147.4 66.1,148.3 67.4,149.3 68.6,150.3 69.9,151.2 71.1,152.2 72.4,153.2 73.6,154.1 74.9,155.1 76.1,156.1 77.4,157.1 78.6,158.0 79.9,159.0 81.1,160.0 82.4,160.9 83.6,161.9 84.9,162.9 86.1,163.8 87.4,164.8 88.6,165.8 89.9,166.7 91.2,167.7 92.4,168.6 93.7,169.6 95.0,170.6 96.2,171.5 97.5,172.5 98.8,173.4 100.1,174.4 101.4,175.3 102.7,176.2 104.0,177.2 105.3,178.1 106.6,179.1 107.9,180.0 109.2,180.9 110.5,181.8 111.9,182.8 113.2,183.7 114.6,184.6 115.9,185.5 117.3,186.4 118.6,187.3 120.0,188.2 121.4,189.1 122.8,190.0 124.0,190.8 125.3,191.6 126.6,192.4 127.9,193.2 129.1,194.0 130.4,194.8 131.7,195.6 133.1,196.4 134.4,197.2 135.7,197.9 137.0,198.7 138.4,199.4 139.7,200.1 141.2,200.9 142.6,201.6 144.1,202.3 145.6,202.9 147.0,203.4 148.5,203.9 149.9,204.4 151.5,204.8 153.0,205.0 154.6,205.2 156.1,205.3 157.7,205.3 159.3,205.1 160.9,204.8 162.4,204.3 163.8,203.7 165.2,202.9 166.5,202.0 167.7,201.1 168.8,200.0 170.0,198.9 171.0,197.7 172.0,196.5 172.9,195.2 173.7,194.0 174.6,192.6 175.3,191.3 176.1,189.9 176.8,188.5 177.4,187.0 178.0,185.6 178.5,184.2 179.0,182.7 179.5,181.3 179.9,179.8 180.3,178.4 180.6,176.9 181.0,175.3 181.3,173.7 181.6,172.1 181.9,170.5 182.2,168.9 182.4,167.3 182.7,165.7 182.9,164.1 183.2,162.5 183.4,160.9 183.6,159.3 183.9,157.7 184.1,156.2 184.3,154.6 184.5,153.0 184.8,151.5 185.0,149.9 185.2,148.4 185.4,146.8 185.7,145.3 185.9,143.7 186.1,142.1 186.3,140.6 186.5,139.0 186.7,137.5 186.9,135.9 187.1,134.4 187.4,132.8 187.6,131.3 187.8,129.7 188.0,128.1 188.2,126.6 188.4,125.0 188.6,123.4 188.8,121.8 189.1,120.3 189.3,118.7 189.5,117.1 189.7,115.5 189.9,113.9 190.2,112.3 190.4,110.7 190.6,109.1 190.8,107.4 191.1,105.8 191.3,104.3 191.5,102.8 191.8,101.3 192.0,99.8 192.3,98.3 192.5,96.8 192.8,95.4 193.2,93.9 193.5,92.4 193.9,90.9 194.4,89.3 194.9,87.7 195.5,86.2 196.1,84.7 196.8,83.2 197.5,81.8 198.3,80.4 199.2,79.0 200.1,77.7 201.1,76.4 202.2,75.2 203.3,74.0 204.4,73.0 205.6,72.0 206.9,71.0 208.2,70.2 209.5,69.5 210.9,68.8 212.5,68.3 214.0,67.9 215.5,67.6 217.1,67.5 218.7,67.6 220.3,67.8 221.9,68.1 223.4,68.4 224.9,68.9 226.4,69.4 227.9,70.0 229.3,70.7 230.7,71.3 232.1,72.0 233.4,72.7 234.7,73.5 236.1,74.2 237.4,75.0 238.7,75.8 240.0,76.6 241.3,77.3 242.6,78.1 244.0,79.0 245.4,79.9 246.8,80.7 248.2,81.6 249.5,82.5 250.9,83.4 252.2,84.2 253.6,85.1 254.9,86.0 256.2,86.9 257.5,87.8 258.8,88.7 260.1,89.6 261.4,90.5 262.7,91.4 264.0,92.3 265.3,93.2 266.6,94.1 267.9,95.0 269.2,96.0 270.5,96.9 271.8,97.8 273.0,98.7 274.3,99.7 275.6,100.6 276.9,101.5 278.2,102.5 279.5,103.4 280.8,104.3 282.1,105.3 283.4,106.2 284.6,107.2 285.9,108.1 287.2,109.1 288.5,110.0 289.8,111.0 291.1,111.9 292.4,112.9 293.7,113.9 295.0,114.8 296.3,115.8 297.6,116.7 298.9,117.7 300.2,118.6 301.5,119.6 302.8,120.6 304.1,121.5 305.4,122.5 306.8,123.4 308.1,124.4 309.4,125.4 310.7,126.3 312.0,127.3 313.3,128.2 314.6,129.2 315.9,130.1 317.2,131.1 318.5,132.0 319.8,133.0 321.0,133.9 322.3,134.9 323.6,135.8 324.9,136.8 326.2,137.7 327.5,138.6 328.8,139.6 330.1,140.5 331.4,141.4 332.7,142.3 334.0,143.3 335.2,144.2 336.5,145.1 337.8,146.0 339.1,147.0 340.4,147.9 341.7,148.8 342.9,149.7 344.2,150.6 345.5,151.5 346.8,152.5 348.1,153.4 349.3,154.3 350.6,155.2 351.9,156.1 353.2,157.1 354.5,158.0 355.7,158.9 357.0,159.8 358.3,160.8 359.6,161.7 360.8,162.6 362.1,163.6 363.4,164.5 364.7,165.4 366.0,166.4 367.3,167.3 368.5,168.3 369.8,169.2 371.1,170.2 372.4,171.2 373.7,172.1 375.0,173.1 376.2,174.1 377.5,175.1 378.8,176.1 380.1,177.0 381.4,178.0 382.7,179.0 384.0,180.1 385.3,181.1 386.5,182.0 387.6,182.9 388.8,183.9 390.0,184.8 391.2,185.7 392.4,186.7 393.6,187.6 394.8,188.5 396.0,189.5 397.2,190.4 398.4,191.3 399.6,192.1 401.0,193.1 402.3,194.0 403.7,194.9 405.0,195.8 406.4,196.7 407.8,197.5 409.2,198.3 410.6,199.1 412.0,199.8 413.4,200.5 414.9,201.2 416.3,201.8 417.8,202.3 419.2,202.9 420.7,203.3 422.2,203.7 423.7,204.1 425.3,204.4 426.8,204.7 428.4,204.8 429.9,204.9 431.5,205.0 433.0,204.9 434.5,204.8 436.1,204.5 437.6,204.0 439.1,203.5 440.5,202.8 441.8,201.9 443.0,200.9 444.2,199.8 445.2,198.7 446.1,197.4 447.0,196.1 447.9,194.8 448.7,193.4 449.4,191.9 450.1,190.6 450.7,189.2 451.3,187.8 451.9,186.4 452.5,185.0 453.0,183.5 453.6,182.0 454.1,180.4 454.7,178.9 455.2,177.3 455.6,175.8 456.1,174.3 456.5,172.7 456.9,171.2 457.3,169.6 457.7,168.1 458.0,166.5 458.4,164.9 458.7,163.4 459.0,161.8 459.3,160.3 459.5,158.7 459.8,157.1 460.0,155.5 460.3,154.0 460.5,152.4 460.7,150.8 460.9,149.2 461.1,147.6 461.2,146.0 461.4,144.4 461.6,142.8 461.7,141.2 461.9,139.6 462.0,138.0 462.1,136.4 462.3,134.8 462.4,133.1 462.5,131.5 462.6,129.9 462.7,128.3 462.9,126.6 463.0,125.0 463.1,123.4 463.2,121.7 463.4,120.1 463.5,118.5 463.7,116.9 463.9,115.2 464.1,113.6 464.3,112.0 464.5,110.4 464.7,108.8 465.0,107.2 465.3,105.6 465.6,104.0 465.9,102.4 466.2,100.9 466.6,99.3 467.0,97.8 467.5,96.2 467.9,94.7 468.4,93.2 469.0,91.7 469.5,90.2 470.1,88.7 470.8,87.3 471.5,85.8 472.2,84.4 472.9,83.0 473.8,81.6 474.6,80.2 475.5,78.9 476.5,77.5 477.4,76.3 478.5,75.0 479.5,73.9 480.6,72.8 481.8,71.7 483.0,70.8 484.3,69.9 485.6,69.1 487.0,68.4 488.5,67.9 490.0,67.6 491.5,67.4 493.0,67.3 494.5,67.4 496.1,67.7 497.7,68.0 499.2,68.5 500.7,69.0 502.2,69.6 503.7,70.2 505.0,70.9 506.4,71.6 507.8,72.3 509.1,73.1 510.5,73.8 511.8,74.6 513.2,75.4 514.5,76.2 515.8,77.0 517.1,77.9 518.4,78.7 519.7,79.5 521.0,80.3 522.3,81.1 523.5,81.9 524.9,82.8 526.3,83.7 527.7,84.6 529.0,85.5 530.4,86.4 531.7,87.3 533.0,88.2 534.4,89.1 535.7,90.1 537.0,91.0 538.3,91.9 539.6,92.8 540.9,93.7 542.2,94.6 543.5,95.5 544.8,96.5 546.0,97.4 547.3,98.3 548.6,99.2 549.9,100.2 551.1,101.1 552.4,102.0 553.7,102.9 555.0,103.9 556.2,104.8 557.5,105.7 558.8,106.6 560.0,107.6 561.3,108.5 562.6,109.4 563.9,110.4 565.2,111.3 566.4,112.2 567.7,113.2 569.0,114.1 570.3,115.0 571.6,116.0 572.9,116.9 574.2,117.8 575.6,118.8 576.9,119.7 578.2,120.6 579.5,121.6 580.9,122.5 582.2,123.5 583.5,124.4 584.8,125.4 586.2,126.3 587.5,127.3 588.7,128.3 590.0,129.3 591.3,130.3 592.5,131.3 593.8,132.3 595.0,133.3 596.2,134.3 597.4,135.4 598.5,136.4 599.6,137.5 599.8,137.7" stroke="#00f" stroke-width="2"/>
</g>
<g stroke="#2b2b2b" stroke-width="1.6" fill="none">
<path d="M51,8.5 V331 M50.2,330.6 H628.8 M628,8.5 V331"/>
</g>
<g stroke="#1a1a1a" stroke-width="1.3" fill="none">
<path d="M51,266.2 H57.3 M51,201.9 H57.3 M51,137.6 H57.3 M51,73.3 H57.3 M51,9.0 H57.3 M628,266.2 H621.3 M628,201.9 H621.3 M628,137.6 H621.3 M628,73.3 H621.3 M628,9.0 H621.3 M118.8,330 V324 M186.6,330 V324 M254.5,330 V324 M322.3,330 V324 M390.1,330 V324 M457.9,330 V324 M525.7,330 V324 M593.6,330 V324"/>
</g>
<g font-family="Liberation Serif" font-size="18.5" fill="#000">
<text x="46.5" y="336.9" text-anchor="end">0</text>
<text x="46.5" y="272.6" text-anchor="end">10</text>
<text x="46.5" y="208.3" text-anchor="end">20</text>
<text x="46.5" y="144.0" text-anchor="end">30</text>
<text x="46.5" y="79.7" text-anchor="end">40</text>
<text x="46.5" y="15.4" text-anchor="end">50</text>
<text x="631" y="336.0">-15</text>
<text x="631" y="271.7">-10</text>
<text x="631" y="207.4">-5</text>
<text x="631" y="143.1">0</text>
<text x="631" y="78.8">5</text>
<text x="631" y="14.5">10</text>
<text x="51.0" y="350" text-anchor="middle">0</text>
<text x="118.8" y="350" text-anchor="middle">2</text>
<text x="186.6" y="350" text-anchor="middle">4</text>
<text x="254.5" y="350" text-anchor="middle">6</text>
<text x="322.3" y="350" text-anchor="middle">8</text>
<text x="390.1" y="350" text-anchor="middle">10</text>
<text x="457.9" y="350" text-anchor="middle">12</text>
<text x="525.7" y="350" text-anchor="middle">14</text>
<text x="593.6" y="350" text-anchor="middle">16</text>
</g>
<g font-family="Liberation Serif" font-size="18" fill="#000">
<text x="251.9" y="367" textLength="78.7" lengthAdjust="spacing">Processing</text>
<text x="336.3" y="367" textLength="31.1" lengthAdjust="spacing">time</text>
<text x="387.3" y="367.3">s</text>
<text transform="translate(17.8,293.2) rotate(-90)" x="0" y="0" textLength="198.5" lengthAdjust="spacing">Angular velocity of C-axis</text>
<text transform="translate(16.6,63.6) rotate(-90)" x="0" y="0">s</text>
<text transform="translate(676.6,346) rotate(-90)" x="0" y="0" textLength="220.5" lengthAdjust="spacing">Linear velocity of X-axis and</text>
<text transform="translate(677,122.6) rotate(-90)" x="0" y="0">Y</text>
<text transform="translate(684,111.6) rotate(-90)" x="0" y="0" font-size="12">B</text>
<text transform="translate(676.6,103.6) rotate(-90)" x="0" y="0" textLength="35.6" lengthAdjust="spacing">-axis</text>
<text transform="translate(676.4,51.3) rotate(-90)" x="0" y="0" textLength="29.6" lengthAdjust="spacing">mm</text>
<text transform="translate(676.4,18.6) rotate(-90)" x="0" y="0">s</text>
</g>
<g stroke="#222" stroke-width="1.1" fill="none">
<path d="M383.2,352.5 Q376.5,360 383.2,367.5"/>
<path d="M397.8,352.5 Q404.5,360 397.8,367.5"/>
<path d="M2.2,79.5 Q9.2,87.5 16.2,79.5"/>
<path d="M2.2,53.2 Q9.2,45.2 16.2,53.2"/>
<ellipse cx="8.4" cy="72.4" rx="3" ry="1.7" stroke-width="1"/>
<path d="M5,64.6 L16,69.2"/>
<path d="M661,53.3 Q668.3,61.5 675.6,53.3"/>
<path d="M661,8.2 Q668.3,0 675.6,8.2"/>
<path d="M661.8,17.6 L675.6,22.3"/>
</g>
<g font-family="Liberation Serif" font-size="16" fill="#000" stroke="#000" stroke-width="0.1">
<text x="85.5" y="19.5" font-size="15.5" textLength="39.9" lengthAdjust="spacing"><tspan font-style="italic">X</tspan>-axis</text>
<text x="129.6" y="19.5" font-size="15.5" textLength="45.5" lengthAdjust="spacing">without</text>
<text x="179.4" y="19.5" font-size="15.5" textLength="42.4" lengthAdjust="spacing">shifting</text>
<text x="270.7" y="20" font-size="15.5" textLength="40.2" lengthAdjust="spacing"><tspan font-style="italic">X</tspan>-axis</text>
<text x="315.0" y="20" font-size="15.5" textLength="26.7" lengthAdjust="spacing">with</text>
<text x="345.4" y="20" font-size="15.5" textLength="44.1" lengthAdjust="spacing">shifting</text>
<text x="471.9" y="17.8" font-size="15.5" font-style="italic">Y</text>
<text x="481.3" y="23.4" font-size="12">B</text>
<text x="489.9" y="17.8" font-size="15.5" textLength="26.6" lengthAdjust="spacing">-axis</text>
<text x="520.3" y="17.8" font-size="15.5" textLength="27.5" lengthAdjust="spacing">with</text>
<text x="551.6" y="17.8" font-size="15.5" textLength="44.6" lengthAdjust="spacing">shifting</text>
<text x="157.2" y="315.8" font-size="15.5" textLength="37.0" lengthAdjust="spacing">C-axis</text>
<text x="198.8" y="315.8" font-size="15.5" textLength="26.5" lengthAdjust="spacing">with</text>
<text x="229.8" y="315.8" font-size="15.5" textLength="44.7" lengthAdjust="spacing">shifting</text>
<text x="436.8" y="317.8" font-size="15.5" textLength="36.9" lengthAdjust="spacing">C-axis</text>
<text x="478.8" y="317.8" font-size="15.5" textLength="44.5" lengthAdjust="spacing">without</text>
<text x="528.4" y="317.8" font-size="15.5" textLength="43.8" lengthAdjust="spacing">shifting</text>
</g>
<path d="M153.6,22.8 L188.8,85.6" stroke="#222" stroke-width="1" fill="none"/><path d="M193.7,94.3 L182.4,85.2 L188.8,85.6 L191.8,79.9 Z" fill="#000"/>
<path d="M330.0,23.0 L319.6,97.4" stroke="#222" stroke-width="1" fill="none"/><path d="M318.2,107.3 L314.7,93.2 L319.6,97.4 L325.4,94.7 Z" fill="#000"/>
<path d="M533.6,27.2 L537.4,112.0" stroke="#222" stroke-width="1" fill="none"/><path d="M537.9,122.0 L531.9,108.8 L537.4,112.0 L542.7,108.3 Z" fill="#000"/>
<path d="M214.6,302.5 L225.5,253.0" stroke="#222" stroke-width="1" fill="none"/><path d="M227.6,243.2 L230.0,257.5 L225.5,253.0 L219.4,255.2 Z" fill="#000"/>
<path d="M503.8,304.2 L542.5,212.6" stroke="#222" stroke-width="1" fill="none"/><path d="M546.4,203.4 L546.1,217.9 L542.5,212.6 L536.2,213.7 Z" fill="#000"/>
</svg></body></html>
